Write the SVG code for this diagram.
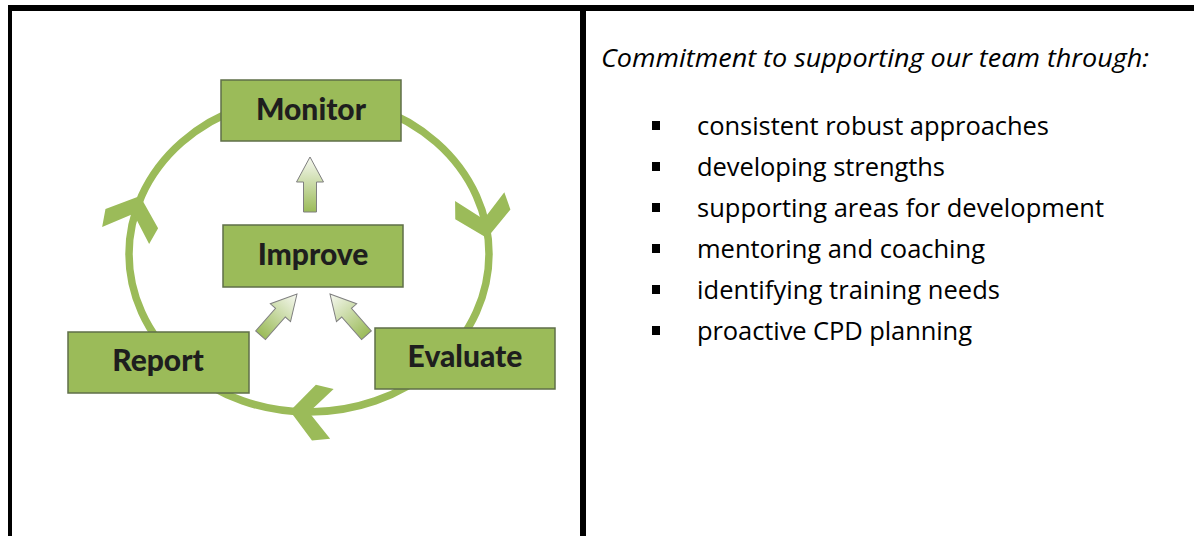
<svg xmlns="http://www.w3.org/2000/svg" width="1194" height="536" viewBox="0 0 1194 536">
<style>
.box{fill:#9bbb59;stroke:#5f6f48;stroke-width:1.5}
.lbl{font-family:Lato,"Open Sans",sans-serif;font-weight:900;font-size:30px;fill:#1e1e1e;text-anchor:middle}
.ring{fill:none;stroke:#9bbb59;stroke-width:7.5}
.chev{fill:#9bbb59}
.blk{fill:url(#g);stroke:#7f7f7f;stroke-width:1}
.txt{font-family:"Open Sans",sans-serif;font-size:25.5px;fill:#000}
.rule{fill:#000}
</style>
<defs>
<linearGradient id="g" x1="0" y1="0" x2="0" y2="1">
<stop offset="0" stop-color="#f7f9f2"/>
<stop offset="1" stop-color="#9bbb59"/>
</linearGradient>
<path id="chevron" d="M0,0 L-24,-28 L-42,-25 L-19,0 L-42,25 L-24,28 Z"/>
<path id="block" d="M0,0 L13.5,25 L6.5,25 L6.5,55 L-6.5,55 L-6.5,25 L-13.5,25 Z"/>
</defs>
<rect width="1194" height="536" fill="#fff"/>
<g id="frame">
<rect class="rule" x="8" y="5" width="1186" height="6"/>
<rect class="rule" x="8" y="5" width="4" height="531"/>
<rect class="rule" x="580" y="5" width="6" height="531"/>
</g>
<g id="connectors">
<ellipse class="ring" cx="309" cy="254" rx="180" ry="158"/>
<use href="#chevron" class="chev" transform="translate(487,238) rotate(80)"/>
<use href="#chevron" class="chev" transform="translate(290,411) rotate(184)"/>
<use href="#chevron" class="chev" transform="translate(140,196) rotate(-70)"/>
<use href="#block" class="blk" transform="translate(310,157)"/>
<use href="#block" class="blk" transform="translate(297,294) rotate(41.5)"/>
<use href="#block" class="blk" transform="translate(330,294) rotate(-41.5)"/>
</g>
<g id="node-monitor">
<rect class="box" x="221" y="80" width="180" height="61"/>
<text class="lbl" x="311" y="120">Monitor</text>
</g>
<g id="node-improve">
<rect class="box" x="223" y="225" width="180" height="62"/>
<text class="lbl" x="313" y="265">Improve</text>
</g>
<g id="node-report">
<rect class="box" x="68" y="332" width="181" height="61"/>
<text class="lbl" x="158" y="371">Report</text>
</g>
<g id="node-evaluate">
<rect class="box" x="375" y="328" width="180" height="61"/>
<text class="lbl" x="465" y="367">Evaluate</text>
</g>
<g id="text-panel">
<text class="txt" x="601" y="67" font-style="italic" textLength="548" lengthAdjust="spacingAndGlyphs">Commitment to supporting our team through:</text>
<rect class="rule" x="652" y="121" width="8" height="9"/>
<text class="txt" x="697" y="135" textLength="352">consistent robust approaches</text>
<rect class="rule" x="652" y="162" width="8" height="9"/>
<text class="txt" x="697" y="176" textLength="248">developing strengths</text>
<rect class="rule" x="652" y="203" width="8" height="9"/>
<text class="txt" x="697" y="217" textLength="407">supporting areas for development</text>
<rect class="rule" x="652" y="244" width="8" height="9"/>
<text class="txt" x="697" y="258" textLength="288">mentoring and coaching</text>
<rect class="rule" x="652" y="285" width="8" height="9"/>
<text class="txt" x="697" y="299" textLength="303">identifying training needs</text>
<rect class="rule" x="652" y="326" width="8" height="9"/>
<text class="txt" x="697" y="340" textLength="275">proactive CPD planning</text>
</g>
</svg>
